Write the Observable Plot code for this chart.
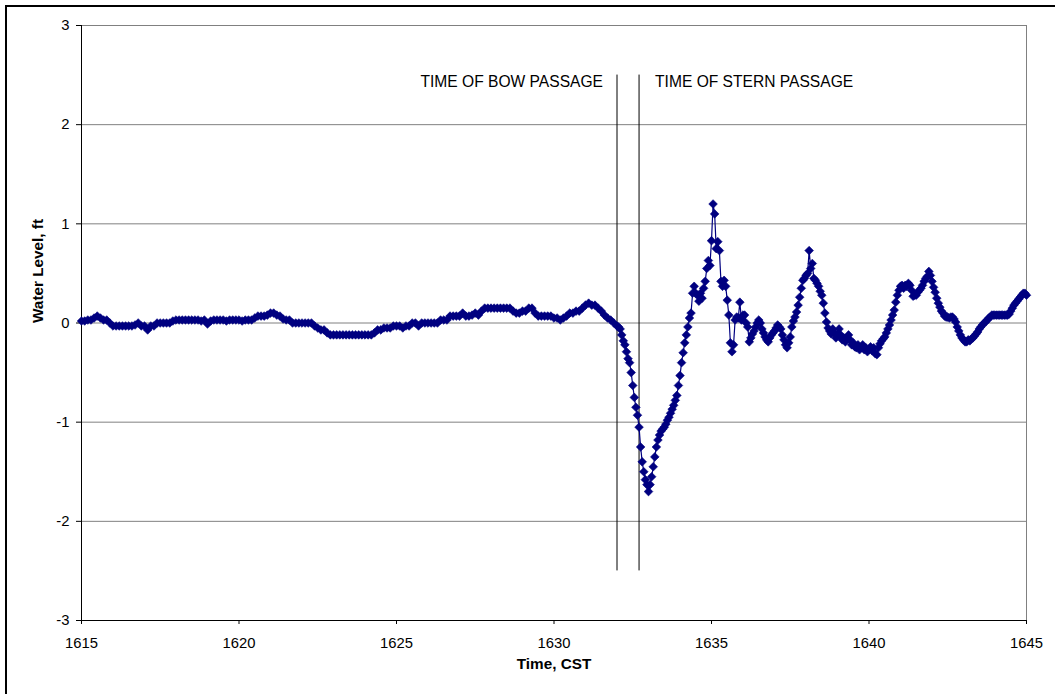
<!DOCTYPE html>
<html>
<head>
<meta charset="utf-8">
<script src="https://cdn.jsdelivr.net/npm/d3@7"></script>
<script src="https://cdn.jsdelivr.net/npm/@observablehq/plot@0.6"></script>
<style>
  html, body { margin: 0; padding: 0; background: #fff; overflow: hidden; }
  #chart { position: relative; width: 1055px; height: 694px; }
  #chart svg { display: block; }
  #edge {
    position: absolute; left: 5px; top: 5px; width: 1300px; height: 900px;
    border-top: 2px solid #000; border-left: 2px solid #000; pointer-events: none;
  }
</style>
</head>
<body>
<div id="chart"><div id="edge"></div></div>
<script>
// Water level before the vessel arrives, sampled every 0.1 min from 1615.0
const calmStart = 1615.0;
const calmStep = 0.1;
const calmLevels = [
  0.02, 0.02, 0.03, 0.03, 0.05, 0.07, 0.05, 0.03, 0.03, 0.00,
  -0.03, -0.03, -0.03, -0.03, -0.03, -0.03, -0.03, -0.02, 0.00, -0.03,
  -0.03, -0.07, -0.03, -0.03, 0.00, 0.00, 0.00, 0.00, 0.00, 0.02,
  0.03, 0.03, 0.03, 0.03, 0.03, 0.03, 0.03, 0.03, 0.02, 0.03,
  -0.01, 0.02, 0.03, 0.03, 0.03, 0.03, 0.02, 0.03, 0.03, 0.03,
  0.03, 0.02, 0.03, 0.03, 0.03, 0.05, 0.07, 0.07, 0.07, 0.08,
  0.10, 0.10, 0.08, 0.07, 0.04, 0.03, 0.03, 0.00, 0.00, 0.00,
  0.00, 0.00, 0.00, 0.00, -0.03, -0.05, -0.07, -0.07, -0.10, -0.12,
  -0.12, -0.12, -0.12, -0.12, -0.12, -0.12, -0.12, -0.12, -0.12, -0.12,
  -0.12, -0.12, -0.12, -0.10, -0.07, -0.07, -0.05, -0.05, -0.05, -0.03,
  -0.03, -0.03, -0.05, -0.03, -0.03, 0.00, 0.00, -0.03, 0.00, 0.00,
  0.00, 0.00, 0.00, 0.00, 0.03, 0.03, 0.03, 0.07, 0.07, 0.07,
  0.07, 0.10, 0.07, 0.07, 0.08, 0.10, 0.08, 0.12, 0.15, 0.15,
  0.15, 0.15, 0.15, 0.15, 0.15, 0.15, 0.15, 0.12, 0.10, 0.10,
  0.12, 0.12, 0.15, 0.15, 0.10, 0.07, 0.07, 0.07, 0.07, 0.07,
  0.05, 0.05, 0.03, 0.05, 0.07, 0.10, 0.10, 0.12, 0.12, 0.15,
  0.18, 0.20, 0.18, 0.18, 0.15, 0.12, 0.08, 0.05, 0.03, 0.00,
  -0.03
];

// Drawdown and wake, sampled every 0.05 min from 1632.05 (one row per minute)
const wakeStart = 1632.05;
const wakeStep = 0.05;
const wakeLevels = [
  -0.04, -0.06, -0.12, -0.18, -0.22, -0.29, -0.36, -0.40, -0.50, -0.63, -0.75, -0.85, -0.93, -1.05, -1.25, -1.40, -1.50, -1.58, -1.63, -1.70,
  -1.63, -1.55, -1.45, -1.35, -1.25, -1.18, -1.13, -1.09, -1.07, -1.05, -1.02, -0.98, -0.95, -0.91, -0.87, -0.83, -0.78, -0.73, -0.63, -0.53,
  -0.40, -0.30, -0.20, -0.12, -0.04, 0.05, 0.10, 0.30, 0.37, 0.30, 0.28, 0.22, 0.30, 0.25, 0.35, 0.42, 0.55, 0.63, 0.58, 0.83,
  1.20, 1.10, 0.75, 0.82, 0.73, 0.42, 0.37, 0.43, 0.37, 0.23, 0.08, -0.20, -0.29, -0.22, 0.03, 0.06, 0.05, 0.21, 0.03, 0.08,
  0.08, 0.00, -0.04, -0.19, -0.15, -0.11, -0.08, -0.04, 0.00, 0.03, 0.00, -0.06, -0.10, -0.14, -0.17, -0.19, -0.15, -0.12, -0.10, -0.08,
  -0.05, -0.02, -0.04, -0.06, -0.12, -0.17, -0.22, -0.25, -0.20, -0.14, -0.04, 0.02, 0.06, 0.11, 0.18, 0.26, 0.35, 0.43, 0.45, 0.48,
  0.50, 0.73, 0.55, 0.60, 0.45, 0.43, 0.40, 0.37, 0.32, 0.28, 0.20, 0.10, 0.01, -0.05, -0.08, -0.11, -0.06, -0.10, -0.15, -0.12,
  -0.06, -0.12, -0.17, -0.15, -0.19, -0.15, -0.12, -0.17, -0.22, -0.20, -0.24, -0.25, -0.22, -0.27, -0.25, -0.22, -0.27, -0.25, -0.29, -0.27,
  -0.24, -0.28, -0.25, -0.31, -0.32, -0.25, -0.21, -0.18, -0.16, -0.14, -0.10, -0.06, -0.02, 0.03, 0.08, 0.13, 0.21, 0.28, 0.33, 0.37,
  0.38, 0.35, 0.38, 0.37, 0.40, 0.38, 0.33, 0.27, 0.28, 0.28, 0.31, 0.33, 0.35, 0.38, 0.42, 0.45, 0.47, 0.52, 0.48, 0.42,
  0.36, 0.31, 0.25, 0.20, 0.16, 0.12, 0.10, 0.07, 0.06, 0.06, 0.05, 0.06, 0.06, 0.04, 0.01, -0.04, -0.08, -0.12, -0.15, -0.17,
  -0.19, -0.19, -0.17, -0.18, -0.16, -0.15, -0.13, -0.11, -0.09, -0.06, -0.04, -0.02, 0.00, 0.01, 0.03, 0.05, 0.06, 0.08, 0.08, 0.08,
  0.08, 0.08, 0.08, 0.08, 0.08, 0.08, 0.08, 0.08, 0.09, 0.12, 0.15, 0.18, 0.20, 0.22, 0.24, 0.26, 0.28, 0.30, 0.30, 0.28
];

const xTicks = [1615, 1620, 1625, 1630, 1635, 1640, 1645];
const yTicks = [-3, -2, -1, 0, 1, 2, 3];
const bowTime = 1632.0;
const sternTime = 1632.7;
const bowLabel = "TIME OF BOW PASSAGE";
const sternLabel = "TIME OF STERN PASSAGE";

const readings = [
  ...calmLevels.map((level, i) => ({time: +(calmStart + i * calmStep).toFixed(2), level})),
  ...wakeLevels.map((level, i) => ({time: +(wakeStart + i * wakeStep).toFixed(2), level}))
];

const navy = "#000080";
const gray = "#808080";

const chart = Plot.plot({
  width: 1055,
  height: 694,
  marginLeft: 81,
  marginRight: 29,
  marginTop: 25,
  marginBottom: 74,
  style: {fontFamily: "'Liberation Sans', Arial, sans-serif", fontSize: "14.8px", color: "#000", background: "#fff"},
  x: {domain: [1615, 1645], label: null},
  y: {domain: [-3, 3], label: null},
  marks: [
    Plot.frame({stroke: gray}),
    Plot.gridY(yTicks, {stroke: gray, strokeOpacity: 1}),
    Plot.ruleX([1615], {stroke: "#000"}),
    Plot.ruleY([-3], {stroke: "#000"}),
    Plot.axisY({ticks: yTicks, tickSize: 5, tickPadding: 7, tickFormat: d => String(d), label: null}),
    Plot.axisX({ticks: xTicks, tickSize: 4, tickPadding: 13, tickFormat: d => String(d), label: null}),
    Plot.ruleX([bowTime, sternTime], {y1: 2.5, y2: -2.5, stroke: "#000", strokeWidth: 1}),
    Plot.text([bowLabel], {x: bowTime, y: 2.43, dx: -14, textAnchor: "end", fontSize: 15.6}),
    Plot.text([sternLabel], {x: sternTime, y: 2.43, dx: 16, textAnchor: "start", fontSize: 15.6}),
    Plot.text(["Time, CST"], {frameAnchor: "bottom", dy: 48, fontWeight: "bold", fontSize: 15.3}),
    Plot.text(["Water Level, ft"], {frameAnchor: "left", dx: -43, rotate: -90, fontWeight: "bold", fontSize: 15.3}),
    Plot.line(readings, {x: "time", y: "level", stroke: navy, strokeWidth: 1.2}),
    Plot.dot(readings, {x: "time", y: "level", symbol: "diamond2", r: 3.9, fill: navy, stroke: navy, strokeWidth: 0.6})
  ]
});

document.getElementById("chart").prepend(chart);
</script>
</body>
</html>
